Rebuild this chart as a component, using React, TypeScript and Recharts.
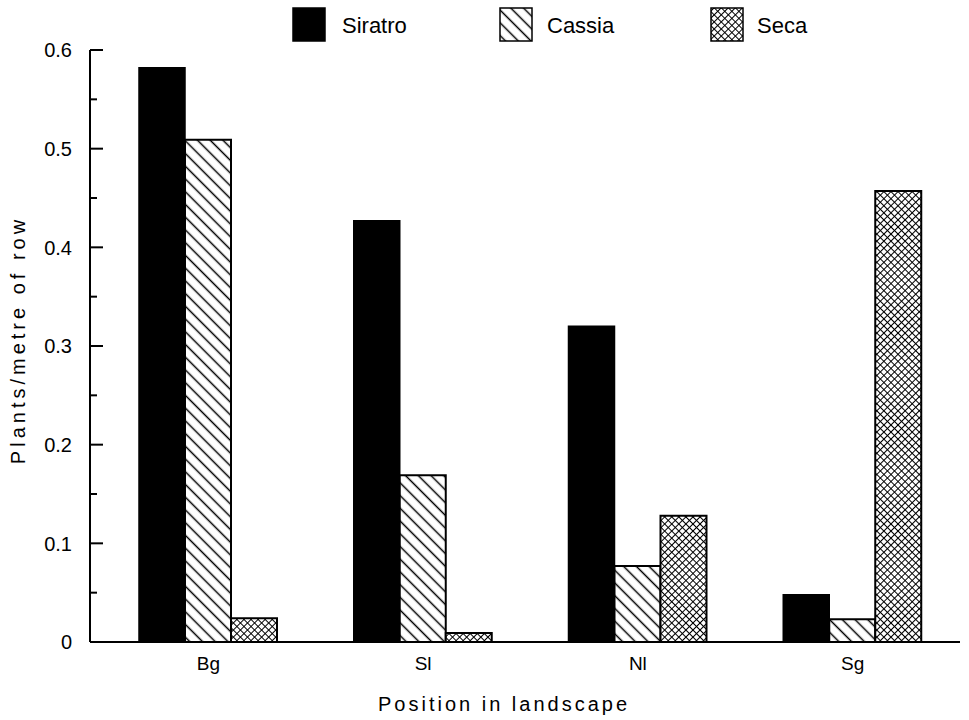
import React from 'react';
import { BarChart, Bar, XAxis, YAxis } from 'recharts';

const categories = ['Bg', 'Sl', 'Nl', 'Sg'];
const siratro = [0.582, 0.427, 0.32, 0.048];
const cassia = [0.509, 0.169, 0.077, 0.023];
const seca = [0.024, 0.009, 0.128, 0.457];
const yTicks = [0, 0.05, 0.1, 0.15, 0.2, 0.25, 0.3, 0.35, 0.4, 0.45, 0.5, 0.55, 0.6];
const seriesNames = ['Siratro', 'Cassia', 'Seca'];

const data = categories.map((c, i) => ({
  name: c,
  Siratro: siratro[i],
  Cassia: cassia[i],
  Seca: seca[i],
}));

const FONT = '"Liberation Sans", Arial, Helvetica, sans-serif';

const PatternDefs = ({ prefix }: { prefix: string }) => (
  <defs>
    <pattern id={`${prefix}hatch`} patternUnits="userSpaceOnUse" width="9" height="9" patternTransform="rotate(45)">
      <rect x="0" y="0" width="9" height="9" fill="#fff" />
      <line x1="0" y1="4.5" x2="9" y2="4.5" stroke="#000" strokeWidth="1.5" />
    </pattern>
    <pattern id={`${prefix}cross`} patternUnits="userSpaceOnUse" width="5" height="5" patternTransform="rotate(45)">
      <rect x="0" y="0" width="5" height="5" fill="#fff" />
      <line x1="0" y1="0" x2="5" y2="0" stroke="#000" strokeWidth="2" />
      <line x1="0" y1="0" x2="0" y2="5" stroke="#000" strokeWidth="2" />
    </pattern>
  </defs>
);

const YTick = (props: any) => {
  const { x, y, payload } = props;
  const v = payload.value as number;
  const major = Math.round(v * 100) % 10 === 0;
  return (
    <g>
      <line x1={x} y1={y} x2={x + (major ? 13 : 7)} y2={y} stroke="#000" strokeWidth={2} />
      {major && (
        <text x={x - 18} y={y} dy="0.36em" textAnchor="end" fontSize={20} fontFamily={FONT} fill="#000">
          {String(v)}
        </text>
      )}
    </g>
  );
};

const XTick = (props: any) => {
  const { x, y, payload } = props;
  return (
    <text x={x} y={y} dy="0.36em" textAnchor="middle" fontSize={19} fontFamily={FONT} fill="#000">
      {payload.value}
    </text>
  );
};

const legendItems = [
  { name: seriesNames[0], fill: '#000', sx: 293, tx: 342 },
  { name: seriesNames[1], fill: 'url(#lg-hatch)', sx: 500, tx: 547 },
  { name: seriesNames[2], fill: 'url(#lg-cross)', sx: 711, tx: 757 },
];

export default function App() {
  return (
    <div style={{ position: 'absolute', left: 0, top: 0, width: 969, height: 720, background: '#fff' }}>
      <BarChart
        width={969}
        height={720}
        data={data}
        margin={{ top: 50, right: 9, bottom: 48, left: 10 }}
        barCategoryGap={38}
        barGap={0}
      >
        <PatternDefs prefix="" />
        <XAxis
          dataKey="name"
          height={30}
          padding={{ left: 11, right: 0 }}
          axisLine={{ stroke: '#000', strokeWidth: 2 }}
          tickLine={false}
          tickSize={0}
          tickMargin={21}
          tick={<XTick />}
          interval={0}
        />
        <YAxis
          width={80}
          domain={[0, 0.6]}
          ticks={yTicks}
          interval={0}
          axisLine={{ stroke: '#000', strokeWidth: 2 }}
          tickLine={false}
          tickSize={0}
          tickMargin={0}
          tick={<YTick />}
        />
        <Bar dataKey="Siratro" fill="#000" stroke="#000" strokeWidth={1.5} isAnimationActive={false} />
        <Bar dataKey="Cassia" fill="url(#hatch)" stroke="#000" strokeWidth={2} isAnimationActive={false} />
        <Bar dataKey="Seca" fill="url(#cross)" stroke="#000" strokeWidth={2} isAnimationActive={false} />
      </BarChart>

      <svg width={969} height={50} style={{ position: 'absolute', left: 0, top: 0 }}>
        <PatternDefs prefix="lg-" />
        {legendItems.map((it) => (
          <g key={it.name}>
            <rect x={it.sx} y={8} width={32} height={33} fill={it.fill} stroke="#000" strokeWidth={1.5} />
            <text x={it.tx} y={33} fontSize={22} fontFamily={FONT} fill="#000">
              {it.name}
            </text>
          </g>
        ))}
      </svg>

      <div
        style={{
          position: 'absolute',
          left: 18,
          top: 340,
          transform: 'translate(-50%, -50%) rotate(-90deg)',
          whiteSpace: 'nowrap',
          fontFamily: FONT,
          fontSize: 20,
          letterSpacing: 4,
          color: '#000',
        }}
      >
        Plants/metre of row
      </div>
      <div
        style={{
          position: 'absolute',
          left: 504,
          top: 704,
          transform: 'translate(-50%, -50%)',
          whiteSpace: 'nowrap',
          fontFamily: FONT,
          fontSize: 20,
          letterSpacing: 3,
          color: '#000',
        }}
      >
        Position in landscape
      </div>
    </div>
  );
}
